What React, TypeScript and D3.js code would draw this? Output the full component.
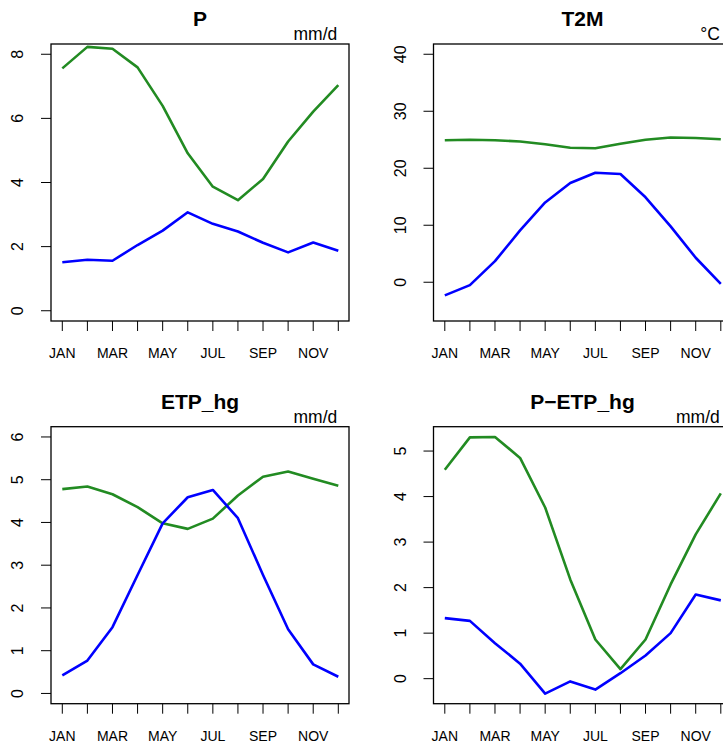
import React from 'react';
import * as d3 from 'd3';

const months = ['JAN', 'FEB', 'MAR', 'APR', 'MAY', 'JUN', 'JUL', 'AUG', 'SEP', 'OCT', 'NOV', 'DEC'];
const monthLabels = ['JAN', '', 'MAR', '', 'MAY', '', 'JUL', '', 'SEP', '', 'NOV', ''];

const titles = ['P', 'T2M', 'ETP_hg', 'P\u2212ETP_hg'];
const units = ['mm/d', '\u00B0C', 'mm/d', 'mm/d'];

// green series
const pGreen = [7.56, 8.23, 8.17, 7.59, 6.39, 4.91, 3.87, 3.45, 4.11, 5.28, 6.21, 7.04];
const t2mGreen = [24.9, 25.0, 24.9, 24.7, 24.2, 23.6, 23.5, 24.3, 25.0, 25.4, 25.3, 25.1];
const etpGreen = [4.78, 4.84, 4.66, 4.36, 3.98, 3.85, 4.09, 4.63, 5.07, 5.19, 5.02, 4.86];
const pEtpGreen = [4.59, 5.3, 5.31, 4.85, 3.76, 2.18, 0.86, 0.21, 0.86, 2.07, 3.17, 4.07];

// blue series
const pBlue = [1.51, 1.59, 1.56, 2.05, 2.5, 3.07, 2.71, 2.47, 2.12, 1.82, 2.13, 1.87];
const t2mBlue = [-2.3, -0.5, 3.7, 9.1, 14.0, 17.4, 19.2, 19.0, 14.9, 9.8, 4.3, -0.3];
const etpBlue = [0.42, 0.77, 1.55, 2.77, 3.98, 4.59, 4.76, 4.1, 2.77, 1.5, 0.68, 0.39];
const pEtpBlue = [1.33, 1.27, 0.78, 0.33, -0.33, -0.06, -0.24, 0.12, 0.51, 1.0, 1.85, 1.72];

const yDomains = [[-0.32, 8.32], [-6.8, 41.8], [-0.24, 6.24], [-0.55, 5.535]];
const yTicks = [[0, 2, 4, 6, 8], [0, 10, 20, 30, 40], [0, 1, 2, 3, 4, 5, 6], [0, 1, 2, 3, 4, 5]];

const greens = [pGreen, t2mGreen, etpGreen, pEtpGreen];
const blues = [pBlue, t2mBlue, etpBlue, pEtpBlue];

const W = 723, H = 749;
const cellW = 382.5, cellH = 382.7;
const box = {left: 51, right: 349, top: 44, bottom: 321};
const font = '"Liberation Sans", Arial, Helvetica, sans-serif';

function Panel({i}: {i: number}) {
    const col = i % 2, row = Math.floor(i / 2);
    const x = d3.scaleLinear().domain([1, 12]).range([62.3, 338.3]);
    const y = d3.scaleLinear().domain(yDomains[i]).range([box.bottom, box.top]);
    const line = d3.line<number>()
        .x((d, k) => x(k + 1))
        .y(d => y(d));

    return (
        <g transform={`translate(${col * cellW},${row * cellH})`}>
            <text x={200} y={26} textAnchor="middle" fontWeight="bold" fontSize={21}>{titles[i]}</text>
            <text x={x(12) - 1} y={40} textAnchor="end" fontSize={17.5}>{units[i]}</text>

            <path d={line(greens[i]) || ''} fill="none" stroke="#228B22" strokeWidth={2.6} strokeLinejoin="round" />
            <path d={line(blues[i]) || ''} fill="none" stroke="#0000FF" strokeWidth={2.6} strokeLinejoin="round" />

            <rect x={box.left} y={box.top} width={box.right - box.left} height={box.bottom - box.top}
                  fill="none" stroke="#000" strokeWidth={1.3} />

            {yTicks[i].map(t => (
                <g key={t}>
                    <line x1={box.left - 10} x2={box.left} y1={y(t)} y2={y(t)} stroke="#000" />
                    <text transform={`translate(23,${y(t)}) rotate(-90)`} textAnchor="middle" fontSize={16}>{t}</text>
                </g>
            ))}

            {months.map((m, k) => (
                <g key={m}>
                    <line x1={x(k + 1)} x2={x(k + 1)} y1={box.bottom} y2={box.bottom + 10} stroke="#000" />
                    {monthLabels[k] && (
                        <text x={x(k + 1)} y={358} textAnchor="middle" fontSize={14}>{monthLabels[k]}</text>
                    )}
                </g>
            ))}
        </g>
    );
}

export default function App() {
    return (
        <svg width={W} height={H} style={{position: 'absolute', left: 0, top: 0, background: '#fff'}}
             fontFamily={font}>
            <rect width={W} height={H} fill="#fff" />
            {[0, 1, 2, 3].map(i => <Panel key={i} i={i} />)}
        </svg>
    );
}
